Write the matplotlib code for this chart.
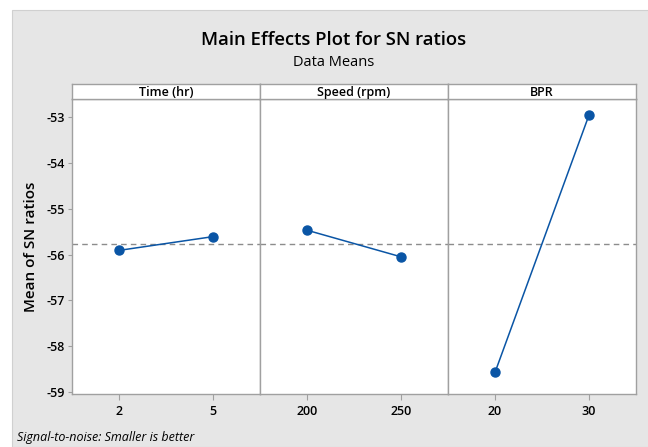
import numpy as np
import matplotlib.pyplot as plt
from matplotlib.patches import Rectangle

# factors and their level means
factors = ['Time (hr)', 'Speed (rpm)', 'BPR']
levels = [['2', '5'], ['200', '250'], ['20', '30']]
means = [[-55.91, -55.61], [-55.47, -56.05], [-58.57, -52.96]]
grand_mean = -55.76

yticks = [-53, -54, -55, -56, -57, -58, -59]

plt.rcParams['font.family'] = ['Open Sans', 'DejaVu Sans']

fig = plt.figure(figsize=(6.48, 4.47), dpi=100)
fig.patches.append(Rectangle((12/648, 0), 1, 1 - 10/447, transform=fig.transFigure,
                             facecolor='#e6e6e6', edgecolor='#d0d0d0', lw=0.8, zorder=-10))

blue = '#0a55a5'
edge = '#a0a0a0'
left, right = 72/648, 636/648
w = (right - left) / 3
bottom, top = 1 - 394/447, 1 - 99/447
hh = 15/447

for i in range(3):
    ax = fig.add_axes([left + i*w, bottom, w, top - bottom])
    x = np.arange(len(levels[i]))
    ax.plot(x, means[i], color=blue, lw=1.1, marker='o', ms=6.5, zorder=3)
    ax.axhline(grand_mean, color='#8c8c8c', lw=1, ls=(0, (4, 3)), zorder=2)
    ax.set_xlim(-0.5, 1.5)
    ax.set_ylim(-59.04, -52.61)
    ax.set_xticks(x)
    ax.set_xticklabels(levels[i], fontsize=9, fontweight='semibold')
    ax.tick_params(axis='x', length=4, color=edge, pad=4)
    ax.set_yticks(yticks)
    if i == 0:
        ax.set_yticklabels([str(t) for t in yticks], fontsize=9, fontweight='semibold')
        ax.tick_params(axis='y', length=3, color=edge, pad=2)
        ax.set_ylabel('Mean of SN ratios', fontsize=11, fontweight='semibold', labelpad=6)
    else:
        ax.tick_params(axis='y', length=0, labelleft=False)
    for s in ax.spines.values():
        s.set_color(edge)
        s.set_linewidth(1)

    hx = fig.add_axes([left + i*w, top, w, hh])
    hx.set_xticks([])
    hx.set_yticks([])
    for s in hx.spines.values():
        s.set_color(edge)
        s.set_linewidth(1)
    hx.text(0.5, 0.45, factors[i], ha='center', va='center', fontsize=9,
            fontweight='semibold', transform=hx.transAxes)

fig.text(0.515, 1 - 40/447, 'Main Effects Plot for SN ratios', ha='center', va='center',
         fontsize=13.3, fontweight='semibold')
fig.text(0.515, 1 - 62/447, 'Data Means', ha='center', va='center', fontsize=10.5,
         fontweight='medium')
fig.text(17/648, 1 - 437/447, 'Signal-to-noise: Smaller is better', ha='left', va='center',
         fontsize=9, style='italic')

fig.savefig('out.png', dpi=100)
